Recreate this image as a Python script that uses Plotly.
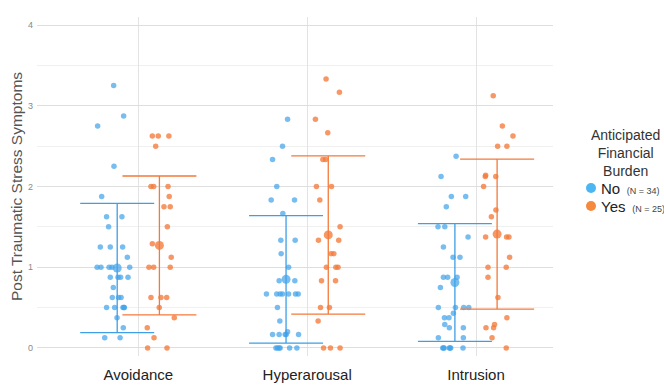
import plotly.graph_objects as go

categories = ["Avoidance", "Hyperarousal", "Intrusion"]

# --- group "No" (N = 34) : values and horizontal jitter (category units)
no_avoid_y = [3.25, 2.875, 2.75, 2.25, 1.875, 1.625, 1.625, 1.5, 1.25, 1.25, 1.25, 1.125,
              1.0, 1.0, 1.0, 1.0, 1.0, 0.875, 0.875, 0.875, 0.875, 0.75, 0.625, 0.625, 0.625,
              0.5, 0.5, 0.5, 0.5, 0.5, 0.375, 0.25, 0.125, 0.125]
no_avoid_dx = [-0.146, -0.087, -0.241, -0.144, -0.217, -0.188, -0.097, -0.176, -0.225, -0.166, -0.093, -0.065,
               -0.244, -0.221, -0.173, -0.156, -0.051, -0.061, -0.166, -0.120, -0.105, -0.148, -0.154, -0.117, -0.102,
               -0.085, -0.188, -0.140, -0.091, -0.083, -0.126, -0.089, -0.199, -0.108]

no_hyper_y = [2.833, 2.5, 2.333, 2.0, 1.833, 1.833, 1.667, 1.333, 1.333, 1.167, 1.0, 0.833, 0.833,
              0.667, 0.667, 0.667, 0.667, 0.667, 0.667, 0.667, 0.5, 0.333,
              0.167, 0.167, 0.167, 0.2, 0.167, 0.167, 0.0, 0.0, 0.0, 0.0, 0.0, 0.0]
no_hyper_dx = [-0.116, -0.146, -0.205, -0.180, -0.213, -0.075, -0.144, -0.156, -0.071, -0.154, -0.110, -0.166, -0.073,
               -0.241, -0.180, -0.160, -0.146, -0.110, -0.069, -0.053, -0.176, -0.162,
               -0.205, -0.166, -0.130, -0.116, -0.124, -0.051, -0.185, -0.176, -0.166, -0.160, -0.104, -0.061]

no_intr_y = [2.375, 2.125, 1.875, 1.875, 1.75, 1.5, 1.5, 1.375, 1.25, 1.125, 1.125, 0.875, 0.875, 0.875,
             0.75, 0.5, 0.5, 0.5, 0.5, 0.43, 0.375, 0.375, 0.29, 0.25, 0.25, 0.125, 0.125,
             0.0, 0.0, 0.0, 0.0, 0.0, 0.0, 0.0]
no_intr_dx = [-0.118, -0.207, -0.146, -0.061, -0.176, -0.225, -0.185, -0.047, -0.193, -0.136, -0.095, -0.193, -0.168, -0.112,
              -0.211, -0.223, -0.122, -0.073, -0.043, -0.134, -0.187, -0.160, -0.185, -0.158, -0.075, -0.223, -0.075,
              -0.197, -0.189, -0.158, -0.150, -0.077, -0.192, -0.154]

# --- group "Yes" (N = 25)
yes_avoid_y = [2.625, 2.625, 2.625, 2.5, 2.0, 2.0, 2.0, 1.875, 1.75, 1.75, 1.5, 1.29, 1.125,
               1.0, 1.0, 1.0, 0.625, 0.625, 0.625, 0.5, 0.375, 0.25, 0.125, 0.0, 0.0]
yes_avoid_dx = [0.083, 0.118, 0.181, 0.103, 0.075, 0.091, 0.176, 0.183, 0.152, 0.189, 0.172, 0.083, 0.195,
                0.063, 0.091, 0.189, 0.075, 0.134, 0.168, 0.124, 0.213, 0.053, 0.093, 0.055, 0.170]

yes_hyper_y = [3.333, 3.167, 2.833, 2.667, 2.333, 2.333, 2.0, 2.0, 1.833, 1.5, 1.333, 1.333, 1.167, 1.167,
               1.0, 1.0, 1.0, 0.833, 0.833, 0.5, 0.5, 0.333, 0.0, 0.0, 0.0]
yes_hyper_dx = [0.112, 0.191, 0.049, 0.122, 0.093, 0.110, 0.055, 0.144, 0.075, 0.195, 0.067, 0.187, 0.142, 0.158,
                0.114, 0.170, 0.183, 0.085, 0.168, 0.079, 0.132, 0.065, 0.097, 0.138, 0.195]

yes_intr_y = [3.125, 2.75, 2.625, 2.5, 2.5, 2.125, 2.14, 2.125, 2.0, 1.71, 1.625, 1.375, 1.375, 1.375,
              1.125, 1.0, 1.0, 0.875, 0.625, 0.375, 0.25, 0.25, 0.29, 0.125, 0.0]
yes_intr_dx = [0.102, 0.156, 0.219, 0.128, 0.183, 0.055, 0.057, 0.117, 0.045, 0.118, 0.091, 0.057, 0.181, 0.195,
               0.199, 0.071, 0.179, 0.071, 0.130, 0.183, 0.059, 0.104, 0.110, 0.095, 0.179]

# --- summary statistics (mean and SD)
no_means = [0.99, 0.85, 0.81]
no_sds = [0.80, 0.79, 0.73]
yes_means = [1.27, 1.40, 1.41]
yes_sds = [0.86, 0.98, 0.93]

group_names = ["No", "Yes"]
group_ns = [34, 25]
group_offsets = [-0.125, 0.125]
y_ticks = [0, 1, 2, 3, 4]

BLUE = "#3d9fe6"
ORANGE = "#f47a3a"
PT_BLUE = "rgba(66,163,234,0.72)"
PT_ORANGE = "rgba(244,122,58,0.78)"
LEG_COLORS = ["#4cb6f2", "#f58a3e"]

W, H = 664, 385
ML, MR, MT, MB = 37, 111, 17, 29
PW, PH = W - ML - MR, H - MT - MB


def px2paper(x, y):
    return (x - ML) / PW, (H - MB - y) / PH


fig = go.Figure()

no_sets = [(no_avoid_y, no_avoid_dx), (no_hyper_y, no_hyper_dx), (no_intr_y, no_intr_dx)]
yes_sets = [(yes_avoid_y, yes_avoid_dx), (yes_hyper_y, yes_hyper_dx), (yes_intr_y, yes_intr_dx)]

for sets, col in [(no_sets, PT_BLUE), (yes_sets, PT_ORANGE)]:
    xs, ys = [], []
    for i, (yv, dxv) in enumerate(sets):
        xs += [i + d for d in dxv]
        ys += yv
    fig.add_trace(go.Scatter(x=xs, y=ys, mode="markers", showlegend=False, hoverinfo="skip",
                             marker=dict(size=5.5, color=col, line=dict(width=0))))

for means, sds, off, col, pcol in [(no_means, no_sds, group_offsets[0], BLUE, PT_BLUE),
                                   (yes_means, yes_sds, group_offsets[1], ORANGE, PT_ORANGE)]:
    fig.add_trace(go.Scatter(
        x=[i + off for i in range(len(categories))], y=means, mode="markers", showlegend=False,
        marker=dict(size=9, color=pcol, line=dict(width=0)),
        error_y=dict(type="data", array=sds, symmetric=True, color=col, thickness=1.3, width=37)))

# legend (drawn manually to match the compact layout)
tx, ty = px2paper(625, 153)
fig.add_annotation(x=tx, y=ty, xref="paper", yref="paper", xanchor="center", yanchor="middle",
                   text="Anticipated<br>Financial<br>Burden", showarrow=False, align="center",
                   font=dict(size=14, color="#333"))
for k, (nm, n, c) in enumerate(zip(group_names, group_ns, LEG_COLORS)):
    cy = 188 + k * 18
    mx, my = px2paper(591, cy)
    fig.add_shape(type="circle", xref="paper", yref="paper", xsizemode="pixel", ysizemode="pixel",
                  xanchor=mx, yanchor=my, x0=-5, x1=5, y0=-5, y1=5, fillcolor=c, line=dict(width=0))
    lx, ly = px2paper(599, cy)
    fig.add_annotation(x=lx, y=ly, xref="paper", yref="paper", xanchor="left", yanchor="middle",
                       text=f"{nm} <span style='font-size:9px;color:#444'>&nbsp;(N = {n})</span>",
                       showarrow=False, font=dict(size=15, color="#222"))

fig.update_layout(
    width=W, height=H,
    margin=dict(l=ML, r=MR, t=MT, b=MB, autoexpand=False),
    paper_bgcolor="white", plot_bgcolor="white", showlegend=False,
    font=dict(family="Liberation Sans, Arial, sans-serif", color="#333"),
    xaxis=dict(range=[-0.6, 2.456], tickvals=[0, 1, 2], ticktext=categories, automargin=False,
               showgrid=True, gridcolor="#e3e3e3", gridwidth=1.3, zeroline=False,
               tickfont=dict(size=15, color="#222"), ticks="", showline=False, ticklabelstandoff=8),
    yaxis=dict(range=[-0.1, 4.1], tickvals=y_ticks, showgrid=True, gridcolor="#dedede", gridwidth=1.2,
               automargin=False, zeroline=False, tickfont=dict(size=9, color="#888"), ticks="", showline=False,
               ticklabelstandoff=3,
               title=dict(text="Post Traumatic Stress Symptoms", font=dict(size=15.5, color="#555"), standoff=1),
               minor=dict(dtick=0.5, showgrid=True, gridcolor="#f0f0f0", gridwidth=1)),
)

fig.write_html("out.html", config={"displayModeBar": False},
               post_script="document.body.style.margin='0';document.body.style.overflow='hidden';")
